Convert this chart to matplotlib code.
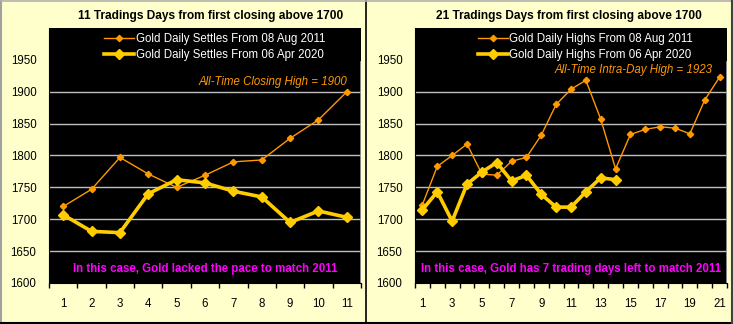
import matplotlib
matplotlib.use("Agg")
import matplotlib.pyplot as plt
from matplotlib.lines import Line2D
import numpy as np

plt.rcParams['font.family'] = ['Liberation Sans', 'DejaVu Sans']

# ---- data ----
days_left = list(range(1, 12))
settles_2011 = [1720, 1747, 1797, 1771, 1750, 1769, 1790, 1793, 1827, 1856, 1900]
settles_2020 = [1707, 1681, 1679, 1740, 1762, 1757, 1744, 1735, 1695, 1713, 1703]

days_right = list(range(1, 22))
highs_2011 = [1723, 1783, 1800, 1818, 1771, 1769, 1791, 1797, 1832, 1880, 1904,
              1918, 1857, 1779, 1833, 1841, 1845, 1843, 1834, 1887, 1923]
highs_2020 = [1715, 1743, 1697, 1755, 1774, 1789, 1760, 1769, 1739, 1719, 1719,
              1743, 1765, 1762]

yticks = [1600, 1650, 1700, 1750, 1800, 1850, 1900, 1950]
grid_vals = [1650, 1700, 1750, 1800, 1850, 1900]
left_xlabels = [str(d) for d in days_left]
right_xlabels = [str(d) for d in days_right[::2]]

titles = ["11 Tradings Days from first closing above 1700",
          "21 Tradings Days from first closing above 1700"]
legend_left = ["Gold Daily Settles From 08 Aug 2011", "Gold Daily Settles From 06 Apr 2020"]
legend_right = ["Gold Daily Highs From 08 Aug 2011", "Gold Daily Highs From 06 Apr 2020"]
ath_left = "All-Time Closing High = 1900"
ath_right = "All-Time Intra-Day High = 1923"
note_left = "In this case, Gold lacked the pace to match 2011"
note_right = "In this case, Gold has 7 trading days left to match 2011"

# ---- style ----
BG = "#FFFFCC"
ORANGE = "#FF9900"
YELLOW = "#FFCC00"
MAGENTA = "#FF00FF"
GRID = "#C0C0C0"
FS = 8.3

W, H = 733, 324
fig = plt.figure(figsize=(W / 100, H / 100), dpi=100)
fig.patch.set_facecolor(BG)

# panel borders
fig.add_artist(Line2D([366 / W, 366 / W], [0, 1], color="black", lw=1.2, transform=fig.transFigure))
fig.add_artist(Line2D([0.5 / W, 0.5 / W], [0, 1], color="#A0A0A0", lw=1.5, transform=fig.transFigure))
fig.add_artist(Line2D([0, 1], [1 - 0.5 / H, 1 - 0.5 / H], color="#B0B0B0", lw=1.2, transform=fig.transFigure))
fig.add_artist(Line2D([0, 1], [0.8 / H, 0.8 / H], color="black", lw=1.5, transform=fig.transFigure))
fig.add_artist(Line2D([1 - 1.5 / W, 1 - 1.5 / W], [0, 1], color="#404040", lw=1.5, transform=fig.transFigure))


def make_panel(x0px, days, s11, s20, xticks, xlabels, title, labels, ath, note, title_dx,
               leg_x, ath_y):
    ax = fig.add_axes([x0px / W, 41 / H, 312 / W, 255 / H])
    ax.set_facecolor("black")
    n = len(days)
    ax.set_xlim(0.5, n + 0.5)
    ax.set_ylim(1600, 2000)
    for g in grid_vals:
        ax.axhline(g, color=GRID, lw=1.0, zorder=1)
    # right border (gray), below the legend region
    ax.axvline(n + 0.5, ymin=0, ymax=(1947 - 1600) / 400, color="#A0A0A0", lw=1.2, zorder=2)

    ax.plot(days[:len(s11)], s11, color=ORANGE, lw=1.0, marker="D", ms=3.2,
            mec=ORANGE, mfc=ORANGE, zorder=3, label=labels[0])
    ax.plot(days[:len(s20)], s20, color=YELLOW, lw=2.6, marker="D", ms=5.0,
            mec=YELLOW, mfc=YELLOW, zorder=4, label=labels[1])

    for s in ["top", "right"]:
        ax.spines[s].set_visible(False)
    ax.spines["left"].set_color("black")
    ax.spines["bottom"].set_color("black")

    ax.set_yticks(yticks)
    ax.set_yticklabels([str(v) for v in yticks], fontsize=FS)
    ax.tick_params(axis="y", length=0, pad=9)
    ax.set_xticks(xticks)
    ax.set_xticklabels(xlabels, fontsize=FS)
    ax.set_xticks(np.arange(0.5, n + 1.0, 1.0), minor=True)
    ax.tick_params(axis="x", which="major", length=0, pad=11)
    ax.tick_params(axis="x", which="minor", length=3.5, width=1.0, color="black", direction="out")

    leg = ax.legend(loc="upper left", bbox_to_anchor=(leg_x, 0.998),
                    frameon=False, fontsize=FS, handlelength=2.6, handletextpad=0.15,
                    labelspacing=0.3, borderaxespad=0)
    for t in leg.get_texts():
        t.set_color("white")

    ax.text(1.0 - 0.045, ath_y, ath, transform=ax.transAxes,
            ha="right", va="center", color=ORANGE, style="italic", fontsize=FS)
    ax.text(0.5, 0.055, note, transform=ax.transAxes, ha="center", va="center",
            color=MAGENTA, fontweight="bold", fontsize=FS)
    fig.text((x0px + 156 + title_dx) / W, 1 - 16 / H, title, ha="center", va="center",
             fontweight="bold", fontsize=FS + 0.3, color="black")
    return ax


make_panel(49, days_left, settles_2011, settles_2020, days_left, left_xlabels,
           titles[0], legend_left, ath_left, note_left, 6, 0.163, 0.79)
make_panel(415, days_right, highs_2011, highs_2020, days_right[::2], right_xlabels,
           titles[1], legend_right, ath_right, note_right, -2, 0.186, 0.835)

fig.savefig("out.png", dpi=100, facecolor=BG)
